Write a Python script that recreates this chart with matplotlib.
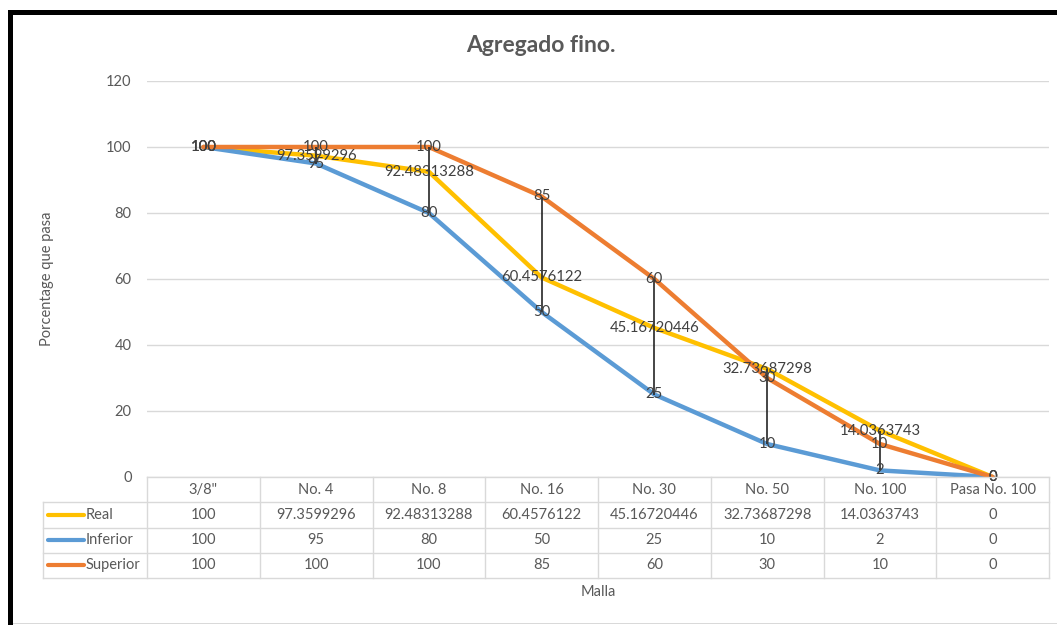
import matplotlib.pyplot as plt
from matplotlib.patches import Rectangle
from matplotlib.lines import Line2D

plt.rcParams['font.family'] = ['Lato', 'DejaVu Sans']

mallas = ['3/8"', 'No. 4', 'No. 8', 'No. 16', 'No. 30', 'No. 50', 'No. 100', 'Pasa No. 100']
real = [100, 97.3599296, 92.48313288, 60.4576122, 45.16720446, 32.73687298, 14.0363743, 0]
inferior = [100, 95, 80, 50, 25, 10, 2, 0]
superior = [100, 100, 100, 85, 60, 30, 10, 0]

series = [('Real', real, '#FFC000'),
          ('Inferior', inferior, '#5B9BD5'),
          ('Superior', superior, '#ED7D31')]

W, H = 1057, 625
fig = plt.figure(figsize=(W / 100, H / 100), dpi=100)

def px_rect(x0, y0, x1, y1):
    # pixel box (top-left origin) -> figure fraction rect
    return [x0 / W, 1 - y1 / H, (x1 - x0) / W, (y1 - y0) / H]

plot_l, plot_r, plot_t, plot_b = 147, 1049, 81, 477
ax = fig.add_axes(px_rect(plot_l, plot_t, plot_r, plot_b))
n = len(mallas)
xs = list(range(n))
ax.set_xlim(-0.5, n - 0.5)
ax.set_ylim(0, 120)
ax.set_yticks(range(0, 121, 20))
ax.set_xticks([])
for s in ax.spines.values():
    s.set_visible(False)
ax.tick_params(axis='y', length=0, pad=11, labelsize=10.5, labelcolor='#595959')
ax.grid(axis='y', color='#d9d9d9', linewidth=1)
ax.set_axisbelow(True)

for name, vals, col in series:
    ax.plot(xs, vals, color=col, linewidth=3.2, solid_capstyle='round', zorder=2)

# high-low lines
lows = [min(v) for v in zip(real, inferior, superior)]
highs = [max(v) for v in zip(real, inferior, superior)]
ax.vlines(xs, lows, highs, color='#262626', linewidth=1.2, zorder=3)

for name, vals, col in series:
    for i, v in enumerate(vals):
        ax.text(i, v, f'{v:.10g}', ha='center', va='center', fontsize=10.7,
                color='#404040', zorder=4, clip_on=False)

ax.set_ylabel('Porcentage que pasa', fontsize=10.5, color='#595959')
ax.yaxis.set_label_coords(-(plot_l - 54) / (plot_r - plot_l), 0.5)

# data table below the plot
tab_l, tab_t, tab_b = 43, 477, 578
tab = fig.add_axes(px_rect(tab_l, tab_t, plot_r, tab_b))
cw = (plot_r - plot_l) / n
tab.set_xlim(-0.5 - (plot_l - tab_l) / cw, n - 0.5)
tab.set_ylim(4, 0)
tab.axis('off')
gc = '#d9d9d9'
x_left = tab.get_xlim()[0]
tab.plot([-0.5, n - 0.5], [0, 0], color=gc, lw=1, clip_on=False)
for r in range(1, 5):
    tab.plot([x_left, n - 0.5], [r, r], color=gc, lw=1, clip_on=False)
tab.plot([x_left, x_left], [1, 4], color=gc, lw=1, clip_on=False)
for k in range(n + 1):
    tab.plot([k - 0.5, k - 0.5], [0, 4], color=gc, lw=1, clip_on=False)
for i, m in enumerate(mallas):
    tab.text(i, 0.5, m, ha='center', va='center', fontsize=10.5, color='#595959')
for r, (name, vals, col) in enumerate(series, start=1):
    kx0 = x_left + 5 / cw
    tab.add_line(Line2D([kx0, kx0 + 36 / cw], [r + 0.5, r + 0.5], color=col, lw=3,
                        solid_capstyle='round'))
    tab.text(kx0 + 38 / cw, r + 0.5, name, ha='left', va='center', fontsize=10.5,
             color='#595959')
    for i, v in enumerate(vals):
        tab.text(i, r + 0.5, f'{v:.10g}', ha='center', va='center', fontsize=10.5,
                 color='#595959')

fig.text((plot_l + plot_r) / 2 / W, 1 - 592 / H, 'Malla', ha='center', va='center',
         fontsize=10.5, color='#595959')
fig.text(541 / W, 1 - 46 / H, 'Agregado fino.', ha='center', va='center',
         fontsize=16.5, fontweight='bold', color='#595959')

# frame around the chart
fig.patches.append(Rectangle((8 / W, 0), 5 / W, 1 - 10 / H, transform=fig.transFigure,
                             facecolor='black', edgecolor='none'))
fig.patches.append(Rectangle((8 / W, 1 - 15 / H), 1 - 8 / W, 5 / H, transform=fig.transFigure,
                             facecolor='black', edgecolor='none'))
fig.patches.append(Rectangle((13 / W, 1 - 624 / H), 1, 1 / H, transform=fig.transFigure,
                             facecolor='#d9d9d9', edgecolor='none'))

fig.savefig('out.png', dpi=100)
